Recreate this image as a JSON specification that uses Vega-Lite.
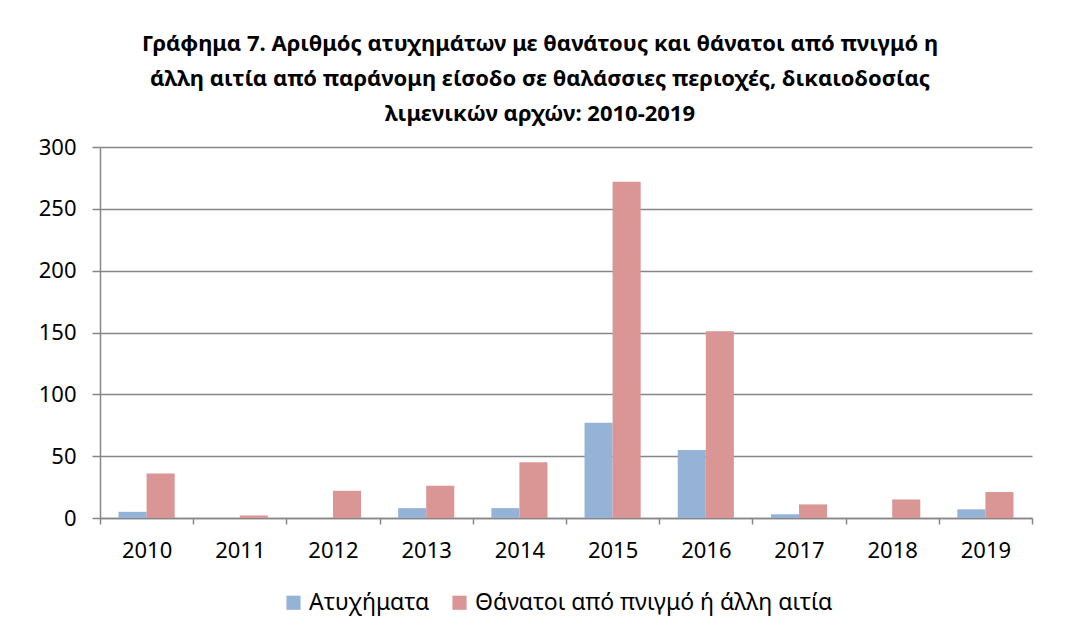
{
  "$schema": "https://vega.github.io/schema/vega-lite/v6.json",
  "autosize": "none",
  "width": 932,
  "height": 371,
  "padding": {"left": 100, "top": 147, "right": 46, "bottom": 123},
  "background": "white",
  "title": {
    "text": [
      "Γράφημα 7. Αριθμός ατυχημάτων με θανάτους και θάνατοι από πνιγμό η",
      "άλλη  αιτία από παράνομη είσοδο σε θαλάσσιες περιοχές, δικαιοδοσίας",
      "λιμενικών  αρχών: 2010-2019"
    ],
    "anchor": "middle",
    "dx": -26,
    "offset": 10,
    "font": "Noto Sans",
    "fontSize": 22,
    "fontWeight": "bold",
    "lineHeight": 35,
    "color": "black"
  },
  "data": {
    "values": [
      {"year": "2010", "series": "Ατυχήματα", "value": 5},
      {"year": "2010", "series": "Θάνατοι από πνιγμό ή άλλη αιτία", "value": 36},
      {"year": "2011", "series": "Ατυχήματα", "value": 0},
      {"year": "2011", "series": "Θάνατοι από πνιγμό ή άλλη αιτία", "value": 2},
      {"year": "2012", "series": "Ατυχήματα", "value": 0},
      {"year": "2012", "series": "Θάνατοι από πνιγμό ή άλλη αιτία", "value": 22},
      {"year": "2013", "series": "Ατυχήματα", "value": 8},
      {"year": "2013", "series": "Θάνατοι από πνιγμό ή άλλη αιτία", "value": 26},
      {"year": "2014", "series": "Ατυχήματα", "value": 8},
      {"year": "2014", "series": "Θάνατοι από πνιγμό ή άλλη αιτία", "value": 45},
      {"year": "2015", "series": "Ατυχήματα", "value": 77},
      {"year": "2015", "series": "Θάνατοι από πνιγμό ή άλλη αιτία", "value": 272},
      {"year": "2016", "series": "Ατυχήματα", "value": 55},
      {"year": "2016", "series": "Θάνατοι από πνιγμό ή άλλη αιτία", "value": 151},
      {"year": "2017", "series": "Ατυχήματα", "value": 3},
      {"year": "2017", "series": "Θάνατοι από πνιγμό ή άλλη αιτία", "value": 11},
      {"year": "2018", "series": "Ατυχήματα", "value": 0},
      {"year": "2018", "series": "Θάνατοι από πνιγμό ή άλλη αιτία", "value": 15},
      {"year": "2019", "series": "Ατυχήματα", "value": 7},
      {"year": "2019", "series": "Θάνατοι από πνιγμό ή άλλη αιτία", "value": 21}
    ]
  },
  "mark": {"type": "bar"},
  "encoding": {
    "x": {
      "field": "year",
      "type": "nominal",
      "scale": {"paddingInner": 0, "paddingOuter": 0},
      "axis": {
        "title": null,
        "labelAngle": 0,
        "tickBand": "extent",
        "tickSize": 6,
        "labelPadding": 16,
        "grid": false
      }
    },
    "xOffset": {
      "field": "series",
      "type": "nominal",
      "scale": {"paddingInner": 0, "paddingOuter": 0.66}
    },
    "y": {
      "field": "value",
      "type": "quantitative",
      "scale": {"domain": [0, 300], "nice": false},
      "axis": {
        "title": null,
        "values": [0, 50, 100, 150, 200, 250, 300],
        "grid": true,
        "tickSize": 8,
        "labelPadding": 16
      }
    },
    "color": {
      "field": "series",
      "type": "nominal",
      "scale": {
        "domain": ["Ατυχήματα", "Θάνατοι από πνιγμό ή άλλη αιτία"],
        "range": ["#95B3D7", "#D99694"]
      },
      "legend": {
        "title": null,
        "orient": "none",
        "legendX": 182,
        "legendY": 444,
        "direction": "horizontal",
        "symbolType": "square",
        "symbolSize": 200,
        "symbolStrokeWidth": 0,
        "labelFontSize": 23,
        "labelFont": "Noto Sans",
        "labelColor": "black",
        "labelLimit": 600,
        "columnPadding": 18
      }
    }
  },
  "config": {
    "view": {"stroke": null},
    "axis": {
      "domainColor": "#868686",
      "domainWidth": 1.5,
      "tickColor": "#868686",
      "tickWidth": 1.5,
      "gridColor": "#868686",
      "gridWidth": 1.5,
      "labelFont": "Noto Sans",
      "labelFontSize": 22,
      "labelColor": "black"
    }
  }
}
